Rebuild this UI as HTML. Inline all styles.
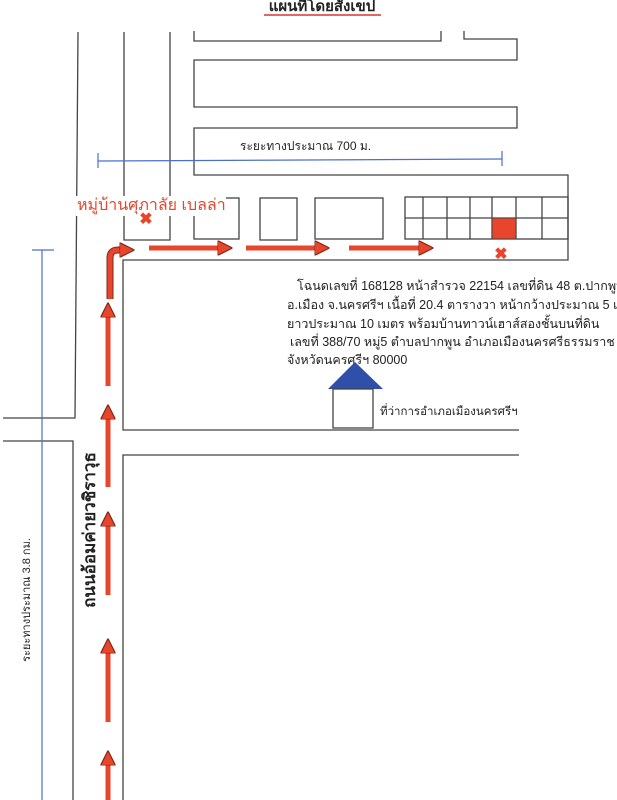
<!DOCTYPE html>
<html><head><meta charset="utf-8"><style>
html,body{margin:0;padding:0;background:#fff;}
svg{display:block;font-family:"Liberation Sans","Noto Sans CJK SC",sans-serif;}
</style></head><body>
<svg width="617" height="800" viewBox="0 0 617 800" xmlns="http://www.w3.org/2000/svg">
<defs>
<marker id="ah" viewBox="0 0 10 10" refX="5" refY="5" markerWidth="3" markerHeight="3" orient="auto"><path d="M0,0 L10,5 L0,10z" fill="#e8452c" stroke="#7a2a1a" stroke-width="0.8"/></marker>
</defs>
<text x="322" y="11" text-anchor="middle" font-size="15" font-weight="bold" fill="#222">แผนที่โดยสังเขป</text>
<line x1="264" y1="15" x2="381" y2="15" stroke="#d33" stroke-width="1.5"/>
<g stroke="#444" stroke-width="1.3" fill="none">
<polyline points="78,32 75,418 3,418"/>
<polyline points="3,441 73,441 73,800"/>
<polyline points="124,32 124,240 170,240 170,32"/>
<polyline points="194,31 194,41 441,41 441,31"/>
<polyline points="464,31 464,39 517,39 517,60 194,60 194,107 517,107 517,128 194,128 194,175 568,175 568,260 123,260 123,430 519,430"/>
<polyline points="519,455 123,455 123,800"/>
<rect x="194" y="198" width="45" height="41"/>
<rect x="260" y="198" width="37" height="42"/>
<rect x="315" y="198" width="68" height="41"/>
<rect x="405" y="197" width="163" height="42"/>
<line x1="405" y1="218" x2="568" y2="218"/>
<line x1="423" y1="197" x2="423" y2="239"/><line x1="447" y1="197" x2="447" y2="239"/>
<line x1="470" y1="197" x2="470" y2="239"/><line x1="492" y1="197" x2="492" y2="239"/>
<line x1="516" y1="197" x2="516" y2="239"/><line x1="542" y1="197" x2="542" y2="239"/>
</g>
<rect x="492" y="218" width="24" height="21" fill="#e8452c" stroke="#444"/>
<g stroke="#4a6fd0" stroke-width="1.2">
<line x1="98" y1="161" x2="502" y2="159"/><line x1="98" y1="153" x2="98" y2="168"/><line x1="502" y1="151" x2="502" y2="166"/>
<line x1="42" y1="250" x2="42" y2="800"/><line x1="32" y1="250" x2="54" y2="250"/>
</g>
<text x="240" y="150" font-size="12" fill="#222">ระยะทางประมาณ 700 ม.</text>
<text x="30" y="600" font-size="11" fill="#222" text-anchor="middle" transform="rotate(-90 30 600)">ระยะทางประมาณ 3.8 กม.</text>
<text x="95" y="530" font-size="17" font-weight="bold" fill="#222" text-anchor="middle" transform="rotate(-90 95 530)">ถนนอ้อมค่ายวชิราวุธ</text>
<rect x="76" y="196" width="150" height="20" fill="#fff"/>
<text x="77" y="210" font-size="16" fill="#e8452c">หมู่บ้านศุภาลัย เบลล่า</text>
<g font-size="16" font-weight="bold" fill="#e8452c" text-anchor="middle"><text x="146" y="224">✖</text><text x="501" y="259">✖</text></g>
<g stroke="#7a2a1a" stroke-width="7" fill="none">
<path d="M110,299 V258 Q110,250 118,250 H128"/>
</g>
<g stroke="#e8452c" stroke-width="5" fill="none" marker-end="url(#ah)">
<path d="M110,299 V258 Q110,250 118,250 H127"/>
<line x1="149" y1="248" x2="225" y2="248"/>
<line x1="246" y1="248" x2="322" y2="248"/>
<line x1="349" y1="248" x2="426" y2="248"/>
<line x1="108" y1="386" x2="108" y2="310"/>
<line x1="108" y1="487" x2="108" y2="412"/>
<line x1="108" y1="595" x2="108" y2="519"/>
<line x1="108" y1="722" x2="108" y2="646"/>
<line x1="108" y1="810" x2="108" y2="758"/>
</g>
<g font-size="12.5" fill="#222">
<text x="297" y="290">โฉนดเลขที่ 168128 หน้าสำรวจ 22154 เลขที่ดิน 48 ต.ปากพูน</text>
<text x="287" y="309">อ.เมือง จ.นครศรีฯ เนื้อที่ 20.4 ตารางวา หน้ากว้างประมาณ 5 เมตร</text>
<text x="287" y="328">ยาวประมาณ 10 เมตร พร้อมบ้านทาวน์เฮาส์สองชั้นบนที่ดิน</text>
<text x="290" y="346">เลขที่ 388/70 หมู่5 ตำบลปากพูน อำเภอเมืองนครศรีธรรมราช</text>
<text x="287" y="364">จังหวัดนครศรีฯ 80000</text>
</g>
<polygon points="355,362 328,389 383,389" fill="#2f4fa8"/>
<rect x="333" y="389" width="40" height="39" fill="#fff" stroke="#444" stroke-width="1.3"/>
<text x="380" y="415" font-size="11.5" fill="#222">ที่ว่าการอำเภอเมืองนครศรีฯ</text>
</svg>
</body></html>
